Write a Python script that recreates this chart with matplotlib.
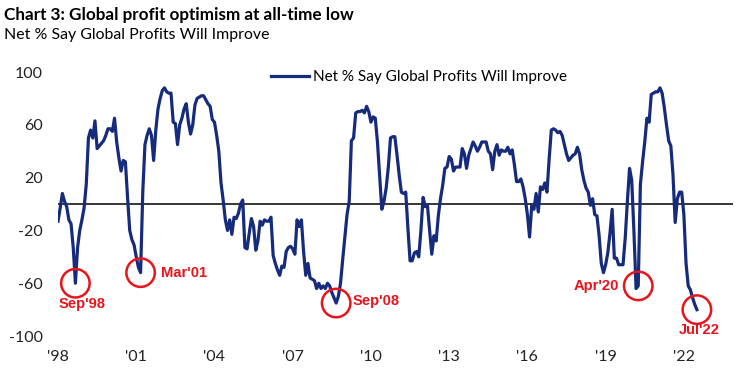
import numpy as np
import matplotlib
matplotlib.use('Agg')
import matplotlib.pyplot as plt

# Net % say global profits will improve, monthly from Jan 1998 to Jul 2022
values = [
    -13, -3, 8, 2, -2, -12, -15, -33, -60, -33, -20, -12,    # 1998
    -3, 15, 50, 56, 50, 63, 42, 44, 46, 48, 52, 57,          # 1999
    57, 55, 65, 47, 35, 25, 33, 32, 5, -20, -27, -31,        # 2000
    -40, -48, -52, 9, 45, 52, 57, 52, 33, 56, 72, 80,        # 2001
    86, 88, 85, 84, 84, 62, 61, 45, 60, 65, 72, 76,          # 2002
    62, 53, 60, 75, 80, 81, 82, 82, 79, 76, 74, 64,          # 2003
    62, 52, 40, 16, 3, -12, -20, -12, -23, -10, -11, -7,     # 2004
    0, 3, -33, -34, -22, -11, -17, -35, -28, -13, -16, -12,  # 2005
    -13, -13, -10, -39, -45, -50, -54, -47, -48, -36, -33, -32,  # 2006
    -34, -38, -12, -17, -12, -36, -54, -45, -56, -57, -58, -64,  # 2007
    -60, -64, -62, -64, -60, -62, -67, -71, -75, -70, -60, -42,  # 2008
    -25, -8, 2, 48, 50, 69, 70, 70, 71, 69, 74, 70,          # 2009
    62, 66, 65, 47, 22, -4, 2, 12, 28, 50, 51, 51,           # 2010
    37, 22, 9, 8, 9, -18, -43, -43, -37, -36, -40, -20,      # 2011
    5, -2, -1, -20, -38, -24, -28, -9, 4, 14, 27, 28,        # 2012
    36, 34, 25, 28, 28, 28, 42, 38, 27, 37, 42, 47,          # 2013
    44, 40, 43, 47, 47, 47, 40, 38, 26, 40, 45, 37,          # 2014
    41, 40, 40, 43, 38, 41, 30, 17, 17, 19, 13, 4,           # 2015
    -8, -25, -1, -4, 8, -6, 13, 11, 16, 9, 34, 56,           # 2016
    57, 56, 54, 55, 52, 45, 38, 33, 35, 37, 38, 43,          # 2017
    38, 26, 18, 12, 9, -1, 4, -8, -9, -24, -45, -52,         # 2018
    -46, -37, -22, -4, -41, -41, -46, -46, -46, -26, 2, 27,  # 2019
    18, -20, -64, -62, 15, 32, 47, 65, 62, 83, 84, 85,       # 2020
    85, 88, 84, 73, 60, 48, 44, 22, -14, 4, 9, 9,            # 2021
    -8, -45, -62, -65, -71, -76, -80,                        # 2022
]

year_ticks = [1998, 2001, 2004, 2007, 2010, 2013, 2016, 2019, 2022]
year_labels = ["'98", "'01", "'04", "'07", "'10", "'13", "'16", "'19", "'22"]
y_ticks = [100, 60, 20, -20, -60, -100]

# callouts: label, year, month
callouts = [("Sep'98", 1998, 9), ("Mar'01", 2001, 3), ("Sep'08", 2008, 9),
            ("Apr'20", 2020, 4), ("Jul'22", 2022, 7)]

navy = '#172b7c'
red = '#e8141c'

plt.rcParams['font.family'] = ['Lato', 'DejaVu Sans']
plt.rcParams['axes.unicode_minus'] = False

t = 1998 + np.arange(len(values)) / 12

fig = plt.figure(figsize=(7.4, 3.81), dpi=100)
ax = fig.add_axes([0.0784, 0.118, 0.912, 0.693])

ax.plot(t, values, color=navy, linewidth=2.3, solid_joinstyle='round',
        label='Net % Say Global Profits Will Improve')
ax.axhline(0, color='black', linewidth=1.1, zorder=1)

# red circles and labels
offsets = {"Sep'98": ((5, -15), 'center'), "Mar'01": ((15, 0), 'left'),
           "Sep'08": ((12, 1.5), 'left'), "Apr'20": ((-14, 0), 'right'),
           "Jul'22": ((1.5, -15), 'center')}
for lab, yr, mo in callouts:
    i = (yr - 1998) * 12 + mo - 1
    ax.scatter(t[i], values[i], s=420, facecolors='none', edgecolors=red,
               linewidths=1.8, zorder=5)
    off, ha = offsets[lab]
    ax.annotate(lab, (t[i], values[i]), xytext=off, textcoords='offset points',
                ha=ha, va='center', color=red, fontsize=10.6, fontweight='bold',
                family=['Liberation Sans'])

ax.set_xlim(1998.0, 2023.88)
ax.set_ylim(-100, 100)
ax.set_xticks(year_ticks)
ax.set_xticklabels(year_labels)
ax.set_yticks(y_ticks)
ax.tick_params(axis='both', length=0, labelsize=11.5, labelcolor='#222222')
ax.tick_params(axis='y', pad=11)
ax.tick_params(axis='x', pad=10)
for s in ax.spines.values():
    s.set_visible(False)

ax.legend(loc='upper center', bbox_to_anchor=(0.535, 1.06), frameon=False,
          fontsize=11, handlelength=2.5, handletextpad=0.25)

fig.text(0.006, 0.961, 'Chart 3: Global profit optimism at all-time low',
         fontsize=12.3, fontweight='bold', va='center')
fig.text(0.006, 0.908, 'Net % Say Global Profits Will Improve',
         fontsize=11.4, va='center')

fig.savefig('out.png', dpi=100)
